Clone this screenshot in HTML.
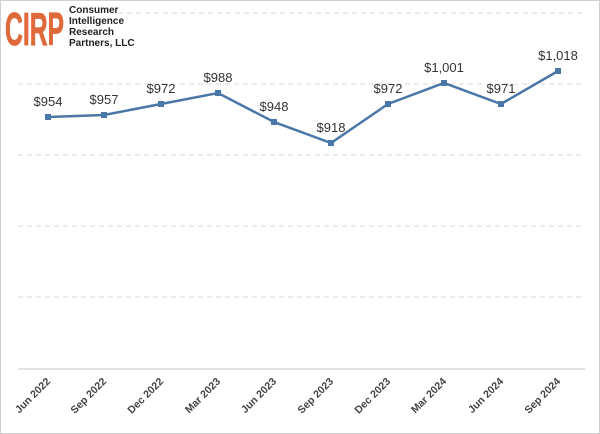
<!DOCTYPE html><html><head><style>body{margin:0}svg{display:block}</style></head><body>
<svg width="600" height="434" xmlns="http://www.w3.org/2000/svg" font-family="Liberation Sans, sans-serif">
<rect x="0.5" y="0.5" width="599" height="433" fill="#fff" stroke="#d0d0d0"/>
<g stroke="#d9d9d9" stroke-dasharray="5,4" stroke-width="1">
<line x1="118" y1="13" x2="585" y2="13"/><line x1="18" y1="84" x2="585" y2="84"/><line x1="18" y1="155" x2="585" y2="155"/><line x1="18" y1="226" x2="585" y2="226"/><line x1="18" y1="297" x2="585" y2="297"/></g>
<line x1="18" y1="369" x2="585" y2="369" stroke="#d9d9d9" stroke-width="1.5"/>
<text x="5" y="45" font-weight="bold" font-size="46" fill="#e0693a" textLength="59" lengthAdjust="spacingAndGlyphs" stroke="#e0693a" stroke-width="0.8">CIRP</text>
<g font-size="10" font-weight="bold" fill="#222"><text x="69" y="13">Consumer</text><text x="69" y="24">Intelligence</text><text x="69" y="35">Research</text><text x="69" y="46">Partners, LLC</text></g>
<polyline fill="none" stroke="#4a76a8" stroke-width="2.5" points="48,117 104,115 161,104 218,93 274,122 331,143 388,104 444,83 501,104 558,71"/>
<g fill="#4a76a8"><rect x="45" y="114" width="6" height="6"/><rect x="101" y="112" width="6" height="6"/><rect x="158" y="101" width="6" height="6"/><rect x="215" y="90" width="6" height="6"/><rect x="271" y="119" width="6" height="6"/><rect x="328" y="140" width="6" height="6"/><rect x="385" y="101" width="6" height="6"/><rect x="441" y="80" width="6" height="6"/><rect x="498" y="101" width="6" height="6"/><rect x="555" y="68" width="6" height="6"/></g>
<g font-size="13" fill="#333" text-anchor="middle"><text x="48" y="106">$954</text><text x="104" y="104">$957</text><text x="161" y="93">$972</text><text x="218" y="82">$988</text><text x="274" y="111">$948</text><text x="331" y="132">$918</text><text x="388" y="93">$972</text><text x="444" y="72">$1,001</text><text x="501" y="93">$971</text><text x="558" y="60">$1,018</text></g>
<g font-size="10.5" font-weight="bold" fill="#444" text-anchor="end">
<text transform="translate(51,382) rotate(-45)">Jun 2022</text><text transform="translate(107,382) rotate(-45)">Sep 2022</text><text transform="translate(164,382) rotate(-45)">Dec 2022</text><text transform="translate(221,382) rotate(-45)">Mar 2023</text><text transform="translate(277,382) rotate(-45)">Jun 2023</text><text transform="translate(334,382) rotate(-45)">Sep 2023</text><text transform="translate(391,382) rotate(-45)">Dec 2023</text><text transform="translate(447,382) rotate(-45)">Mar 2024</text><text transform="translate(504,382) rotate(-45)">Jun 2024</text><text transform="translate(561,382) rotate(-45)">Sep 2024</text></g>
</svg></body></html>
